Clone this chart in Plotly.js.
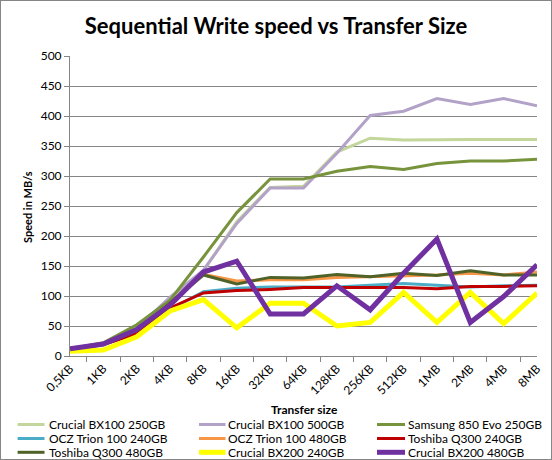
<!DOCTYPE html>
<html>
<head>
<meta charset="utf-8">
<script src="https://cdn.plot.ly/plotly-3.0.1.min.js"></script>
<style>
html,body{margin:0;padding:0;background:#fff;}
#chart{width:552px;height:460px;box-sizing:border-box;border:1px solid #868686;}
</style>
</head>
<body>
<div id="chart"></div>
<script>
const sizes = ["0,5KB","1KB","2KB","4KB","8KB","16KB","32KB","64KB","128KB","256KB","512KB","1MB","2MB","4MB","8MB"];

const names = ["Crucial BX100 250GB","Crucial BX100 500GB","Samsung 850 Evo 250GB",
  "OCZ Trion 100 240GB","OCZ Trion 100 480GB","Toshiba Q300 240GB",
  "Toshiba Q300 480GB","Crucial BX200 240GB","Crucial BX200 480GB"];

const bx100_250 = [11, 20, 46, 96, 142, 224, 281, 283, 340, 363, 360, 361, 361, 361, 361];
const bx100_500 = [11, 20, 46, 98, 143, 221, 280, 280, 338, 401, 408, 429, 419, 429, 417];
const samsung_250 = [12, 22, 52, 93, 165, 239, 295, 295, 308, 316, 311, 321, 325, 325, 328];
const ocz_240 = [10, 19, 38, 78, 107, 113, 115, 115, 115, 118, 121, 118, 115, 117, 118];
const ocz_480 = [11, 20, 42, 88, 136, 125, 127, 127, 131, 132, 133, 135, 138, 135, 140];
const tosh_240 = [10, 19, 37, 80, 105, 109, 111, 114, 114, 114, 114, 112, 116, 116, 117];
const tosh_480 = [11, 20, 42, 88, 135, 120, 131, 130, 136, 132, 138, 134, 142, 135, 135];
const bx200_240 = [8, 10, 32, 75, 94, 47, 88, 88, 50, 56, 106, 56, 106, 54, 105];
const bx200_480 = [12, 20, 44, 85, 140, 158, 70, 70, 117, 77, 138, 195, 56, 99, 152];

const series = [bx100_250, bx100_500, samsung_250, ocz_240, ocz_480, tosh_240, tosh_480, bx200_240, bx200_480];
const colors = ["#c3d69b","#b3a2c7","#77933c","#4bacc6","#f79646","#c00000","#4f6228","#ffff00","#7030a0"];
const widths = [3, 3, 3, 3, 3, 3, 3, 5, 5];

const traces = series.map((vals, i) => ({
  type: "scatter", mode: "lines", x: sizes, y: vals, name: names[i],
  line: {color: colors[i], width: widths[i]}, showlegend: false
}));

const font = "Lato, 'Open Sans', sans-serif";

// plot area geometry (layout pixels)
const W = 550, H = 458, ML = 69, MR = 14, MT = 55, MB = 103;
const PW = W - ML - MR, PH = H - MT - MB;
const px = x => (x - ML) / PW;
const py = y => (MT + PH - y) / PH;

// legend layout (3 columns x 3 rows), drawn as line samples + text
const legCols = [{l0: 16.6, l1: 43.5, t: 46.5}, {l0: 198, l1: 224.5, t: 226}, {l0: 376, l1: 404, t: 405.5}];
const legRows = [423.5, 437.5, 451.3];
const shapes = [], annotations = [];
names.forEach((n, i) => {
  const c = legCols[i % 3], y = legRows[Math.floor(i / 3)];
  shapes.push({type: "line", xref: "paper", yref: "paper", x0: px(c.l0), x1: px(c.l1), y0: py(y), y1: py(y),
    line: {color: colors[i], width: widths[i]}});
  annotations.push({text: n, xref: "paper", yref: "paper", x: px(c.t), y: py(y), xanchor: "left", yanchor: "middle",
    showarrow: false, borderpad: 0, font: {family: font, size: 12, color: "#000"}});
});
annotations.push(
  {text: "<b>Speed in MB/s</b>", xref: "paper", yref: "paper", x: px(26), y: py(206), textangle: -90,
    showarrow: false, font: {family: font, size: 11, color: "#000"}, xanchor: "center", yanchor: "middle"},
  {text: "<b>Transfer size</b>", xref: "paper", yref: "paper", x: px(303), y: py(408.5), showarrow: false,
    borderpad: 0, font: {family: font, size: 12, color: "#000"}, xanchor: "center", yanchor: "middle"}
);

const layout = {
  width: W, height: H,
  margin: {l: ML, r: MR, t: MT, b: MB},
  paper_bgcolor: "#fff", plot_bgcolor: "#fff",
  font: {family: font, size: 12, color: "#000"},
  title: {text: "<b>Sequential Write speed vs Transfer Size</b>", font: {family: font, size: 22, color: "#000"},
    x: 0.5, xanchor: "center", y: 1 - 25 / H, yanchor: "middle"},
  showlegend: false,
  xaxis: {type: "category", tickangle: -45, showgrid: false, showline: true, linecolor: "#868686", linewidth: 1,
    ticks: "outside", tickson: "boundaries", ticklen: 5, tickcolor: "#868686", automargin: false,
    tickfont: {family: font, size: 12, color: "#000"}, fixedrange: true},
  yaxis: {range: [0, 500], dtick: 50, showgrid: true, gridcolor: "#868686", gridwidth: 1, automargin: false,
    showline: true, linecolor: "#868686", ticks: "outside", ticklen: 5, tickcolor: "#868686",
    zeroline: false, tickfont: {family: font, size: 12, color: "#000"}, fixedrange: true},
  shapes: shapes,
  annotations: annotations
};

Plotly.newPlot("chart", traces, layout, {displayModeBar: false, staticPlot: true});
</script>
</body>
</html>
